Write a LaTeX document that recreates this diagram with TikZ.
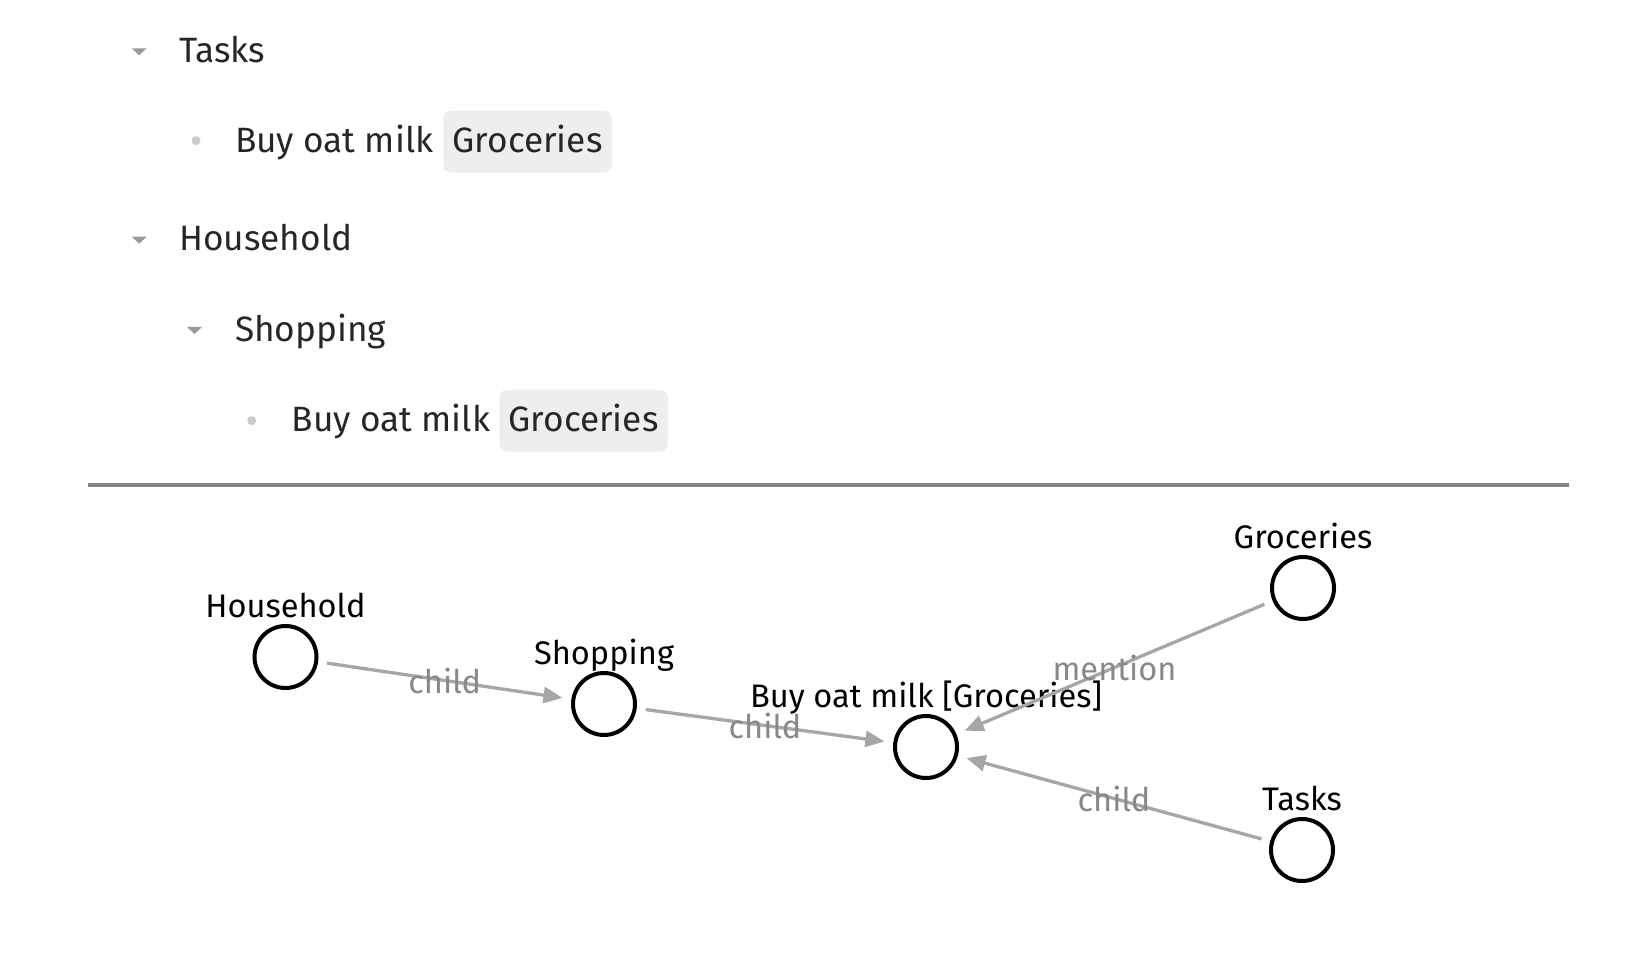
\documentclass[tikz,border=0pt]{standalone}
\usepackage{fontspec}
\setmainfont{Fira Sans}
\newfontfamily\outlinefamily{Fira Sans}
\usetikzlibrary{arrows.meta}
\definecolor{txtgray}{HTML}{262626}
\definecolor{trigray}{HTML}{9A9A9A}
\definecolor{dotgray}{HTML}{CBCBCB}
\definecolor{chipfill}{HTML}{EEEEEE}
\definecolor{sepgray}{HTML}{858585}
\definecolor{edgegray}{HTML}{A6A6A6}
\definecolor{elabelgray}{HTML}{888888}
\newcommand\outlinesize{\outlinefamily\fontsize{17.6pt}{21pt}\selectfont}
\newcommand\graphsize{\fontsize{16.3pt}{20pt}\selectfont}
\tikzset{
  otext/.style={anchor=base west, inner sep=0pt, outer sep=0pt, text=txtgray, font=\outlinesize},
  chip/.style={anchor=base west, fill=chipfill, rounded corners=4pt, inner xsep=4.7pt, inner ysep=8.8pt,
    text height=12.2pt, text depth=1.2pt, outer sep=0pt, text=txtgray, font=\outlinesize},
  tri/.style={fill=trigray},
  dot/.style={fill=dotgray},
  gnode/.style={circle, draw=black, line width=2pt, minimum size=31pt, inner sep=0pt},
  glabel/.style={anchor=base, inner sep=0pt, font=\graphsize, text=black},
  gedge/.style={draw=edgegray, line width=1.65pt, -{Triangle[length=9.5pt,width=8pt]},
    shorten <=4.5pt, shorten >=4.5pt},
  elabel/.style={midway, inner sep=0pt, font=\graphsize, text=elabelgray},
}
\begin{document}
\begin{tikzpicture}[x=0.5pt,y=-0.5pt]
\useasboundingbox (0,0) rectangle (1652,956);

% outline
\fill[tri] (131.7,48.3) -- (146.7,48.3) -- (139.2,55.3) -- cycle;
\node[otext] (t1) at (179.3,62.7) {Tasks};
\fill[dot] (196,140.7) circle (4.5);
\node[otext] (t2) at (235,152.7) {Buy oat milk};
\node[chip] (c1) at (443.3,152.7) {Groceries};

\fill[tri] (131.7,236.7) -- (146.7,236.7) -- (139.2,243.7) -- cycle;
\node[otext] (t3) at (179.3,250.7) {Household};

\fill[tri] (187,327) -- (202,327) -- (194.5,334) -- cycle;
\node[otext] (t4) at (235,341.7) {Shopping};

\fill[dot] (251.7,420.7) circle (4.5);
\node[otext] (t5) at (291.7,431.7) {Buy oat milk};
\node[chip] (c2) at (499.3,431.7) {Groceries};

% separator
\draw[sepgray, line width=2pt] (88,484.7) -- (1569,484.7);

% graph
\node[gnode] (H) at (285.5,657) {};
\node[gnode] (S) at (604,704) {};
\node[gnode] (B) at (926,747) {};
\node[gnode] (G) at (1303,588) {};
\node[gnode] (T) at (1302,850) {};

\node[glabel] (Hl) at ([yshift=20pt]H.center) {Household};
\node[glabel] (Sl) at ([yshift=20pt]S.center) {Shopping};
\node[glabel] (Bl) at ([yshift=20pt]B.center) {Buy oat milk [Groceries]};
\node[glabel] (Gl) at ([yshift=20pt]G.center) {Groceries};
\node[glabel] (Tl) at ([yshift=20pt]T.center) {Tasks};

\draw[gedge] (H) -- node[elabel] {child} (S);
\draw[gedge] (S) -- node[elabel] {child} (B);
\draw[gedge] (G) -- node[elabel] {mention} (B);
\draw[gedge] (T) -- node[elabel] {child} (B);
\end{tikzpicture}
\end{document}
